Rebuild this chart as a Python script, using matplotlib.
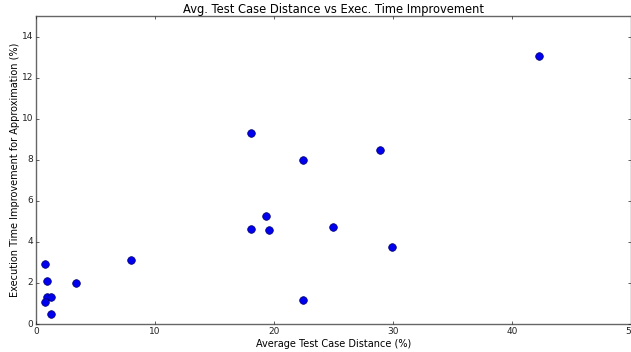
import matplotlib
matplotlib.use("Agg")
import matplotlib.pyplot as plt

# avg test case distance (%) vs exec time improvement (%)
distance = [42.3, 18.1, 22.4, 28.9, 19.3, 18.1, 19.6, 25.0, 29.9, 22.4,
            8.0, 3.4, 0.8, 0.9, 0.9, 1.3, 0.8, 1.3]
improvement = [13.05, 9.3, 8.0, 8.47, 5.27, 4.63, 4.58, 4.73, 3.75, 1.17,
               3.13, 2.02, 2.93, 2.1, 1.33, 1.33, 1.07, 0.5]

x_ticks = [0, 10, 20, 30, 40, 50]
y_ticks = [0, 2, 4, 6, 8, 10, 12, 14]


def main():
    plt.style.use("classic")
    fig = plt.figure(figsize=(6.31, 3.52), dpi=100)
    ax = fig.add_axes([0.057, 0.0795, 0.943, 0.875])

    ax.plot(distance, improvement, "o", color="#0000ee", markeredgecolor="#000066",
            markeredgewidth=0.5, markersize=5.5)

    ax.set_xlim(0, 50)
    ax.set_ylim(0, 15)
    ax.set_xticks(x_ticks)
    ax.set_yticks(y_ticks)
    ax.tick_params(labelsize=6.5, length=2.5, pad=2, colors="#222222")
    for s in ax.spines.values():
        s.set_color("#666666")

    ax.set_title("Avg. Test Case Distance vs Exec. Time Improvement", fontsize=8.3, pad=2)
    ax.set_xlabel("Average Test Case Distance (%)", fontsize=7, labelpad=2)
    ax.set_ylabel("Execution Time Improvement for Approximation (%)", fontsize=7, labelpad=1)

    fig.savefig("out.png", dpi=100, facecolor="white")


if __name__ == "__main__":
    main()
